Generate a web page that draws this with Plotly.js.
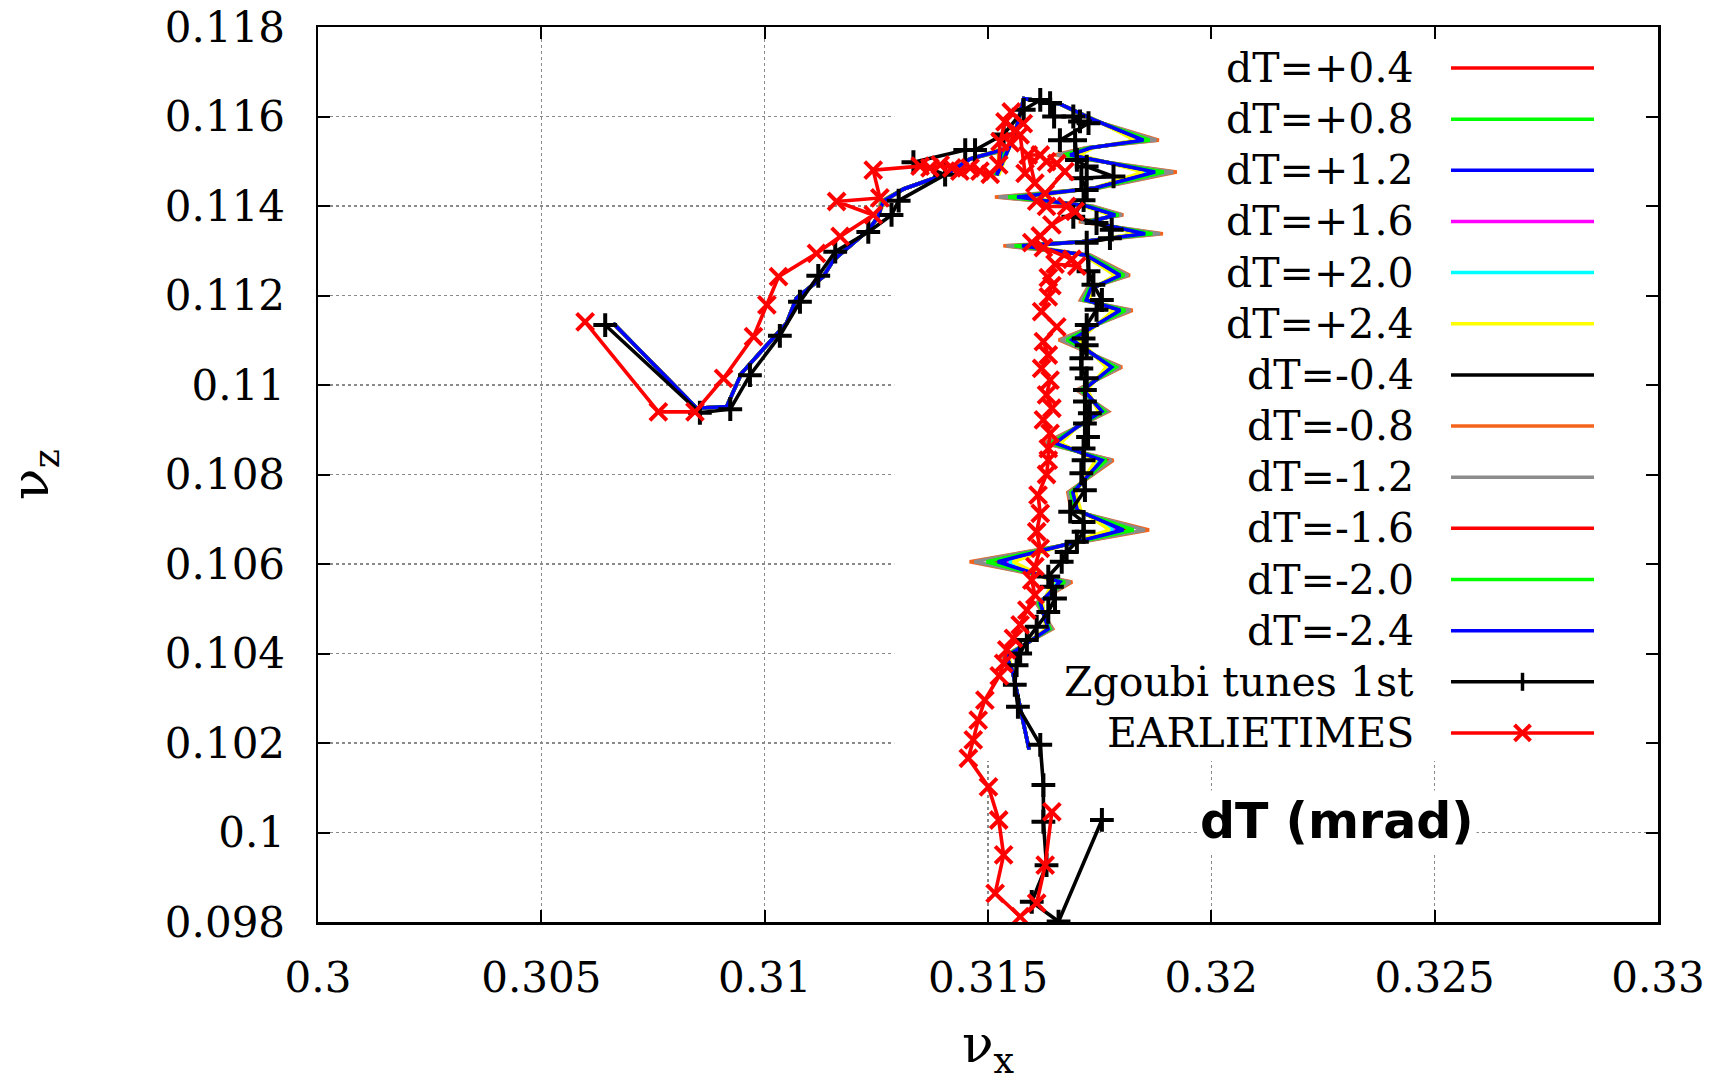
<!DOCTYPE html>
<html>
<head>
<meta charset="utf-8">
<script src="https://cdn.plot.ly/plotly-3.0.1.min.js"></script>
<style>html,body{margin:0;padding:0;background:#fff;}#chart{width:1721px;height:1082px;}</style>
</head>
<body>
<div id="chart"></div>
<script>
// ---------------- data ----------------
const xTickVals = [0.3, 0.305, 0.31, 0.315, 0.32, 0.325, 0.33];
const xTickText = ["0.3", "0.305", "0.31", "0.315", "0.32", "0.325", "0.33"];
const yTickVals = [0.098, 0.1, 0.102, 0.104, 0.106, 0.108, 0.11, 0.112, 0.114, 0.116, 0.118];
const yTickText = ["0.098", "0.1", "0.102", "0.104", "0.106", "0.108", "0.11", "0.112", "0.114", "0.116", "0.118"];

// dT scan curves: common path (dT=-2.4, drawn on top)
const nuxDT = [0.30661,0.30848,0.30915,0.30948,0.31049,0.31071,0.31131,0.31154,0.31232,0.31254,
  0.31265,0.31311,0.31408,0.31460,0.31530,0.31520,0.31560,0.31580,0.31661,0.31736,
  0.31848,0.31730,0.31684,0.31874,0.31740,0.31565,0.31720,0.31785,0.31730,0.31852,
  0.31710,0.31576,0.31720,0.31796,0.31730,0.31720,0.31796,0.31688,0.31777,0.31714,
  0.31755,0.31699,0.31650,0.31755,0.31690,0.31700,0.31803,0.31522,0.31661,0.31617,
  0.31635,0.31587,0.31542,0.31555,0.31592];
const nuzDT = [0.11138,0.10948,0.10952,0.11026,0.11138,0.11194,0.11242,0.11279,0.11346,0.11376,
  0.11410,0.11438,0.11472,0.11505,0.11525,0.11469,0.11560,0.11640,0.11628,0.11593,
  0.11547,0.11530,0.11514,0.11476,0.11440,0.11420,0.11400,0.11380,0.11365,0.11338,
  0.11320,0.11311,0.11290,0.11245,0.11215,0.11190,0.11167,0.11101,0.11040,0.10989,
  0.10941,0.10906,0.10870,0.10832,0.10760,0.10720,0.10676,0.10605,0.10560,0.10513,
  0.10455,0.10423,0.10393,0.10360,0.10185];
// vertices where the dT curves visibly fan out (1) or coincide (0)
const fringeDT = [0,0,0,0,0,0,0,0,0,0, 1,0,0,0,1,1,1,0,0,1, 1,1,1,1,1,1,1,1,1,1,
  1,1,1,1,1,1,1,1,1,1, 1,1,1,1,1,1,1,1,1,1, 1,1,1,0,0];
const dtNames = ["dT=+0.4","dT=+0.8","dT=+1.2","dT=+1.6","dT=+2.0","dT=+2.4",
                 "dT=-0.4","dT=-0.8","dT=-1.2","dT=-1.6","dT=-2.0","dT=-2.4"];
const dtSpike = [0.97, 0.95, 0.93, 0.90, 0.88, 0.84, 1.03, 1.30, 1.25, 1.10, 1.12, 1.00];
const dtColors = ["#ff0000","#00ff00","#0000ff","#ff00ff","#00ffff","#ffff00",
                  "#000000","#f4631c","#8c8c8c","#ff0000","#00ff00","#0000ff"];

// Zgoubi tunes 1st
const nuxZg = [0.30643,0.30855,0.30923,0.30967,0.31034,0.31079,0.31120,0.31158,0.31232,0.31284,
  0.31300,0.31404,0.31333,0.31449,0.31471,0.31535,0.31580,0.31617,0.31639,0.31648,
  0.31691,0.31706,0.31725,0.31661,0.31695,0.31699,0.31721,0.31781,0.31709,0.31721,
  0.31714,0.31691,0.31743,0.31777,0.31773,0.31721,0.31725,0.31736,0.31755,0.31743,
  0.31721,0.31714,0.31721,0.31709,0.31709,0.31721,0.31717,0.31717,0.31728,0.31717,
  0.31724,0.31714,0.31714,0.31709,0.31717,0.31684,0.31714,0.31714,0.31699,0.31676,
  0.31665,0.31635,0.31643,0.31650,0.31635,0.31609,0.31587,0.31572,0.31564,0.31560,
  0.31567,0.31617,0.31624,0.31624,0.31631,0.31598,0.31658,0.31755];
const nuzZg = [0.11134,0.10938,0.10946,0.11022,0.11110,0.11186,0.11244,0.11298,0.11342,0.11380,
  0.11412,0.11470,0.11498,0.11525,0.11525,0.11560,0.11615,0.11637,0.11630,0.11600,
  0.11600,0.11589,0.11585,0.11547,0.11547,0.11503,0.11488,0.11466,0.11462,0.11436,
  0.11413,0.11376,0.11362,0.11347,0.11328,0.11318,0.11254,0.11224,0.11190,0.11168,
  0.11134,0.11104,0.11089,0.11060,0.11037,0.11015,0.10989,0.10963,0.10937,0.10914,
  0.10884,0.10858,0.10832,0.10803,0.10765,0.10717,0.10694,0.10672,0.10650,0.10627,
  0.10605,0.10572,0.10549,0.10523,0.10493,0.10460,0.10430,0.10400,0.10374,0.10330,
  0.10281,0.10196,0.10106,0.10024,0.09927,0.09845,0.09801,0.10028];

// EARLIETIMES
const nuxET = [0.30598,0.30762,0.30844,0.30908,0.30975,0.31005,0.31031,0.31116,0.31169,0.31243,
  0.31161,0.31258,0.31243,0.31348,0.31370,0.31393,0.31419,0.31437,0.31460,0.31482,
  0.31505,0.31524,0.31527,0.31538,0.31552,0.31579,0.31561,0.31550,0.31572,0.31583,
  0.31605,0.31590,0.31617,0.31631,0.31654,0.31672,0.31628,0.31609,0.31631,0.31676,
  0.31695,0.31643,0.31617,0.31598,0.31624,0.31688,0.31699,0.31650,0.31635,0.31643,
  0.31635,0.31620,0.31654,0.31624,0.31635,0.31620,0.31639,0.31631,0.31643,0.31624,
  0.31639,0.31635,0.31635,0.31631,0.31612,0.31617,0.31609,0.31617,0.31605,0.31598,
  0.31605,0.31587,0.31572,0.31557,0.31542,0.31535,0.31525,0.31493,0.31478,0.31467,
  0.31456,0.31501,0.31524,0.31535,0.31516,0.31572,0.31609,0.31628,0.31643];
const nuzET = [0.11141,0.10940,0.10940,0.11015,0.11108,0.11179,0.11242,0.11294,0.11332,0.11380,
  0.11410,0.11418,0.11480,0.11489,0.11485,0.11492,0.11485,0.11478,0.11485,0.11478,
  0.11471,0.11492,0.11544,0.11588,0.11610,0.11584,0.11569,0.11541,0.11559,0.11473,
  0.11451,0.11514,0.11514,0.11499,0.11495,0.11477,0.11428,0.11411,0.11399,0.11399,
  0.11388,0.11358,0.11333,0.11318,0.11307,0.11281,0.11266,0.11270,0.11240,0.11222,
  0.11197,0.11164,0.11130,0.11097,0.11067,0.11037,0.11011,0.10978,0.10948,0.10922,
  0.10892,0.10858,0.10832,0.10800,0.10754,0.10713,0.10672,0.10635,0.10594,0.10564,
  0.10531,0.10497,0.10464,0.10434,0.10408,0.10378,0.10350,0.10296,0.10251,0.10207,
  0.10166,0.10102,0.10028,0.09950,0.09864,0.09812,0.09842,0.09927,0.10046];

const legendNames = dtNames.concat(["Zgoubi tunes 1st", "EARLIETIMES"]);
const legendColors = dtColors.concat(["#000000", "#ff0000"]);

// ---------------- traces ----------------
function fanned(base, s) {
  return base.map(function (v, k) {
    if (!fringeDT[k] || k === 0 || k === base.length - 1) return v;
    const mid = (base[k - 1] + base[k + 1]) / 2;
    return v + (s - 1) * (v - mid);
  });
}
const traces = [];
dtNames.forEach(function (nm, i) {
  traces.push({
    type: "scatter", mode: "lines", name: nm,
    x: fanned(nuxDT, dtSpike[i]), y: nuzDT,
    line: {color: dtColors[i], width: 3.6},
    showlegend: false, hoverinfo: "skip"
  });
});
traces.push({
  type: "scatter", mode: "lines+markers", name: "Zgoubi tunes 1st",
  x: nuxZg, y: nuzZg,
  line: {color: "#000000", width: 3.6},
  marker: {symbol: "cross-thin", size: 17, color: "#000000", line: {color: "#000000", width: 4}},
  showlegend: false
});
traces.push({
  type: "scatter", mode: "lines+markers", name: "EARLIETIMES",
  x: nuxET, y: nuzET,
  line: {color: "#ff0000", width: 3.6},
  marker: {symbol: "x-thin", size: 17, color: "#ff0000", line: {color: "#ff0000", width: 4}},
  showlegend: false
});

// ---------------- layout ----------------
const L = 318, R = 1658, T = 27, B = 922;
function px2paperX(p) { return (p - L) / (R - L); }
function px2paperY(p) { return 1 - (p - T) / (B - T); }

const shapes = [{
  type: "rect", xref: "x", yref: "y", x0: 0.3129, x1: 0.33, y0: 0.1016, y1: 0.118,
  fillcolor: "#ffffff", line: {width: 0}, layer: "between"
}];
const annotations = [];
const lx0 = px2paperX(1451), lx1 = px2paperX(1594), lxm = px2paperX(1522.5);
legendNames.forEach(function (nm, k) {
  const py = px2paperY(68 + 51.15 * k);
  annotations.push({
    xref: "paper", yref: "paper", x: px2paperX(1416), y: py,
    xanchor: "right", yanchor: "middle", showarrow: false, text: nm,
    font: {family: "DejaVu Serif", size: 41, color: "#000"}
  });
  shapes.push({type: "line", xref: "paper", yref: "paper", x0: lx0, x1: lx1, y0: py, y1: py,
    line: {color: legendColors[k], width: 3.5}, layer: "above"});
  if (nm === "Zgoubi tunes 1st") {
    shapes.push({type: "line", xref: "paper", yref: "paper", xsizemode: "pixel", ysizemode: "pixel",
      xanchor: lxm, yanchor: py, x0: 0, x1: 0, y0: -9, y1: 9,
      line: {color: "#000", width: 3.5}, layer: "above"});
  }
  if (nm === "EARLIETIMES") {
    shapes.push({type: "line", xref: "paper", yref: "paper", xsizemode: "pixel", ysizemode: "pixel",
      xanchor: lxm, yanchor: py, x0: -8, x1: 8, y0: -8, y1: 8,
      line: {color: "#ff0000", width: 4}, layer: "above"});
    shapes.push({type: "line", xref: "paper", yref: "paper", xsizemode: "pixel", ysizemode: "pixel",
      xanchor: lxm, yanchor: py, x0: -8, x1: 8, y0: 8, y1: -8,
      line: {color: "#ff0000", width: 4}, layer: "above"});
  }
});
annotations.push({
  xref: "paper", yref: "paper", x: px2paperX(1337), y: px2paperY(821),
  xanchor: "center", yanchor: "middle", showarrow: false, text: "dT (mrad)",
  bgcolor: "#ffffff", borderpad: 2,
  font: {family: "DejaVu Sans", size: 49, color: "#000", weight: 700}
});

const axisCommon = {
  showline: true, linecolor: "#000", linewidth: 2.5, mirror: "ticks",
  ticks: "inside", ticklen: 12, tickwidth: 2, tickcolor: "#000",
  showgrid: true, gridcolor: "#8a8a8a", gridwidth: 1.3, griddash: "dot",
  zeroline: false, tickfont: {family: "DejaVu Serif", size: 42, color: "#000"},
  fixedrange: true
};
const layout = {
  width: 1721, height: 1082,
  margin: {l: L, r: 1721 - R, t: T, b: 1082 - B, pad: 0},
  paper_bgcolor: "#ffffff", plot_bgcolor: "#ffffff",
  showlegend: false,
  xaxis: Object.assign({}, axisCommon, {
    range: [0.3, 0.33], tickmode: "array", tickvals: xTickVals, ticktext: xTickText,
    ticklabelstandoff: 17,
    title: {text: "ν<sub>x</sub>", font: {family: "DejaVu Serif", size: 52, color: "#000"}, standoff: 36}
  }),
  yaxis: Object.assign({}, axisCommon, {
    range: [0.098, 0.118], tickmode: "array", tickvals: yTickVals, ticktext: yTickText,
    ticklabelstandoff: 22,
    title: {text: "ν<sub>z</sub>", font: {family: "DejaVu Serif", size: 52, color: "#000"}, standoff: 110}
  }),
  shapes: shapes,
  annotations: annotations
};
Plotly.newPlot("chart", traces, layout, {displayModeBar: false, staticPlot: true});
</script>
</body>
</html>
